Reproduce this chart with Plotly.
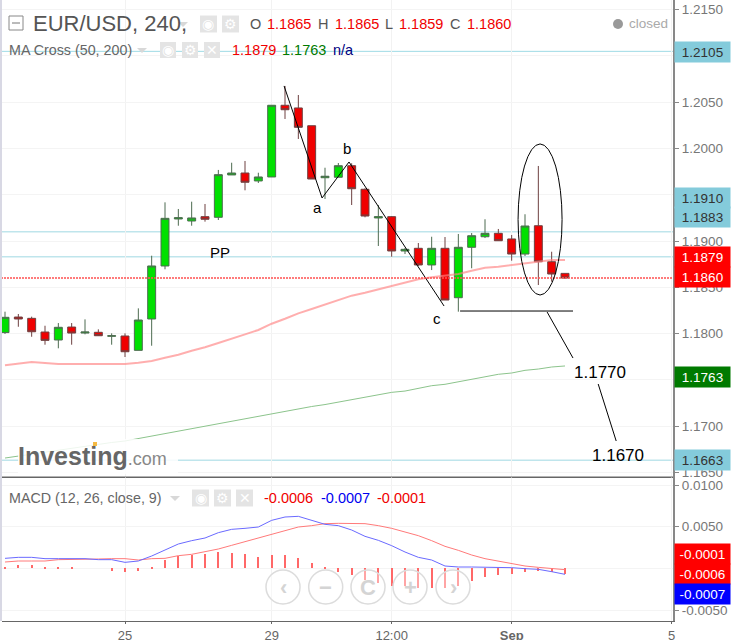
import plotly.graph_objects as go
from plotly.subplots import make_subplots

# candles, 4h bars
opens = [1.1801,1.18178,1.18164,1.18016,1.1793,1.1807,1.18005,1.18013,1.1797,1.17973,1.17818,1.18157,1.1873,1.19238,1.19216,1.19263,1.19256,1.19714,1.19735,1.19649,1.19692,1.20467,1.20438,1.20246,1.19684,1.19689,1.19814,1.19559,1.19249,1.19263,1.18892,1.18921,1.18741,1.18921,1.18387,1.18932,1.19046,1.19083,1.19022,1.18859,1.19165,1.18776,1.1865]
highs = [1.18236,1.18211,1.18182,1.18084,1.18113,1.18113,1.18153,1.18045,1.18002,1.18002,1.18272,1.18841,1.19418,1.19346,1.19425,1.194,1.19768,1.19846,1.19865,1.19738,1.20467,1.20676,1.20578,1.20246,1.19792,1.19843,1.1984,1.1957,1.19389,1.1927,1.18925,1.18978,1.19046,1.19043,1.19076,1.19086,1.19235,1.1913,1.19065,1.19289,1.19811,1.18884,1.1865]
lows = [1.17995,1.18073,1.17965,1.17879,1.1784,1.17879,1.17991,1.17973,1.17879,1.17746,1.17818,1.17868,1.18694,1.19165,1.19165,1.19209,1.19227,1.19714,1.19548,1.19627,1.19692,1.20319,1.20103,1.1967,1.19454,1.19689,1.19389,1.19256,1.18946,1.1883,1.18859,1.1873,1.18686,1.18362,1.18236,1.18705,1.19032,1.19,1.18787,1.18838,1.18524,1.1856,1.1859]
closes = [1.18175,1.18157,1.18019,1.17926,1.18067,1.18005,1.18016,1.17976,1.17976,1.17803,1.18146,1.1873,1.19245,1.19252,1.19249,1.19235,1.19717,1.19735,1.19635,1.19692,1.20467,1.20419,1.20229,1.1967,1.197,1.19814,1.19565,1.1927,1.19263,1.18892,1.1891,1.18741,1.18921,1.18362,1.18932,1.19057,1.19083,1.19003,1.18859,1.19162,1.18776,1.18643,1.186]

ma50 = [1.17656,1.17674,1.17692,1.17681,1.1767,1.1767,1.1767,1.1767,1.1767,1.1767,1.17684,1.17703,1.17738,1.17771,1.17814,1.17851,1.17897,1.17948,1.17991,1.18038,1.18106,1.1816,1.18218,1.18265,1.18311,1.18362,1.18409,1.18441,1.18478,1.18517,1.18554,1.18586,1.18608,1.18625,1.18643,1.18679,1.18711,1.18722,1.18741,1.18765,1.18784,1.18795,1.18795]
ma200 = [1.16654,1.16676,1.16697,1.16719,1.16735,1.16757,1.16778,1.168,1.16822,1.16838,1.16865,1.16892,1.16919,1.16946,1.16973,1.17,1.17027,1.17049,1.17076,1.17103,1.1713,1.17157,1.17184,1.17211,1.17232,1.1726,1.17286,1.17314,1.17338,1.17364,1.17378,1.17408,1.17436,1.17451,1.17479,1.17508,1.17537,1.17559,1.17573,1.17602,1.17616,1.17638,1.17649]

macd_blue = [.0012,.00132,.00132,.00116,.00116,.00116,.00116,.00104,.00104,.00072,.00088,.00148,.00224,.00292,.00332,.00364,.00428,.00468,.0048,.00496,.00576,.00616,.00624,.00576,.00528,.00512,.0046,.00384,.00336,.00272,.00196,.00132,.001,.00028,.00016,.00016,.00016,.00012,.00008,-.00004,-.00012,-.0004,-.00072]
macd_red = [.00076,.00088,.00088,.00088,.00104,.00104,.00112,.00112,.00116,.00116,.001,.00116,.0012,.00152,.00168,.00196,.00232,.00276,.0032,.00364,.00408,.00448,.00496,.00512,.00536,.0054,.0054,.00536,.00512,.0048,.00436,.00392,.00332,.00264,.00216,.0016,.00116,.00084,.00056,.00028,.00012,-.00004,-.00016]
macd_hist = [.0002,.0004,.0004,.0002,.0002,.00008,0,0,-.00028,-.0004,-.00028,.0002,.00096,.00144,.0016,.00172,.00192,.00188,.00172,.0014,.0016,.0016,.00124,.00068,.00008,-.0004,-.00084,-.00136,-.00176,-.00216,-.00216,-.00236,-.00236,-.00236,-.00216,-.00156,-.00108,-.0008,-.00064,-.0004,-.00032,-.00044,-.00068]

bars = list(range(len(opens)))

# hand drawn lines on the chart (bar index, price)
zig_x = [20.93,23.78,25.8,32.93]
zig_y = [1.20676,1.19465,1.19854,1.18297]
floor_x = [34.13,42.6]
floor_y = [1.18243,1.18243]
drop1_x = [40.66,42.6]
drop1_y = [1.18232,1.17735]
drop2_x = [44.49,45.84]
drop2_y = [1.17454,1.16838]

levels = [1.2105,1.1910,1.1883,1.1663]
last_price = 1.1860

price_ticks = [1.2150,1.2100,1.2050,1.2000,1.1950,1.1900,1.1850,1.1800,1.1750,1.1700,1.1650]
# 1.2100, 1.1950 and 1.1750 sit fully behind the price tags
price_labels = ['1.2150','','1.2050','1.2000','','1.1900','1.1850','1.1800','','1.1700','1.1650']
macd_ticks = [0.01,0.005,0,-0.005]
macd_labels = ['0.0100','0.0050','','-0.0050']
time_ticks = [9,20,29,38,50]
time_labels = ['25','29','12:00','<b>Sep</b>','5']

W, H = 733, 640
L, R, B = 2, 60, 19
PW, PH = W-L-R, H-B

def xp(px):
    return (px-L)/PW
def yp(py):
    return 1-py/PH

fig = make_subplots(rows=2, cols=1, shared_xaxes=True, vertical_spacing=0, row_heights=[477/621,144/621])

fig.add_trace(go.Candlestick(x=bars, open=opens, high=highs, low=lows, close=closes,
    increasing=dict(fillcolor='#00e000', line=dict(color='#4d6b50', width=1)),
    decreasing=dict(fillcolor='#f00000', line=dict(color='#6e4040', width=1))), row=1, col=1)
fig.add_trace(go.Scatter(x=bars, y=ma50, mode='lines', line=dict(color='rgba(255,130,130,0.65)', width=2)), row=1, col=1)
fig.add_trace(go.Scatter(x=bars, y=ma200, mode='lines', line=dict(color='#8cc48c', width=1)), row=1, col=1)
for xs, ys in [(zig_x,zig_y),(floor_x,floor_y),(drop1_x,drop1_y),(drop2_x,drop2_y)]:
    fig.add_trace(go.Scatter(x=xs, y=ys, mode='lines', line=dict(color='black', width=1)), row=1, col=1)

fig.add_trace(go.Bar(x=bars, y=macd_hist, width=0.1, marker=dict(color='#ff6868', line=dict(width=0))), row=2, col=1)
fig.add_trace(go.Scatter(x=bars, y=macd_red, mode='lines', line=dict(color='#ff7a7a', width=1)), row=2, col=1)
fig.add_trace(go.Scatter(x=bars, y=macd_blue, mode='lines', line=dict(color='#6a6aff', width=1)), row=2, col=1)

# level lines
for lv in levels:
    c = '#9fdbe6' if lv == 1.2105 else '#bfe5ec'
    w = 1 if lv == 1.2105 else 1.5
    fig.add_shape(type='line', xref='x', yref='y', x0=-0.3, x1=50.2, y0=lv, y1=lv, line=dict(color=c, width=w), layer='below')
fig.add_shape(type='line', xref='x', yref='y', x0=-0.3, x1=50.2, y0=last_price, y1=last_price, line=dict(color='#ff5050', width=1.5, dash='2px,1px'))
# circled spike
fig.add_shape(type='circle', xref='x', yref='y', x0=38.48, x1=41.78, y0=1.18416, y1=1.20049, line=dict(color='black', width=1))

def txt(px, py, text, size, color, anchor='left', family='Liberation Sans'):
    fig.add_annotation(xref='paper', yref='paper', x=xp(px), y=yp(py), text=text, showarrow=False,
        xanchor=anchor, yanchor='middle', font=dict(size=size, color=color, family=family), borderpad=0)

def tag(py, text, bg, fg='white'):
    fig.add_annotation(xref='paper', yref='paper', x=xp(674), y=yp(py), text=text, showarrow=False,
        xanchor='left', yanchor='middle', width=55, height=20, bgcolor=bg, borderpad=0, align='center', valign='middle',
        font=dict(size=13.5, color=fg, family='Liberation Sans'))

def box(x0, y0, x1, y1, **kw):
    fig.add_shape(type='rect', xref='paper', yref='paper', x0=xp(x0), x1=xp(x1), y0=yp(y0), y1=yp(y1), **kw)

def caret(px, py):
    fig.add_shape(type='path', xref='paper', yref='paper',
        path=f'M {xp(px)} {yp(py-2)} L {xp(px+10)} {yp(py-2)} L {xp(px+5)} {yp(py+3)} Z',
        fillcolor='#d8d8d8', line=dict(width=0))

def icons(px_list, py, size):
    glyphs = ['◉','⚙','✕']
    for i, px in enumerate(px_list):
        box(px, py-size/2, px+size, py+size/2, fillcolor='#e4e4e4', line=dict(width=0))
        txt(px+size/2, py, glyphs[i], 14, 'white', 'center', 'DejaVu Sans')

# header
box(9, 16, 23, 30, line=dict(color='#888', width=1))
fig.add_shape(type='line', xref='paper', yref='paper', x0=xp(12), x1=xp(20), y0=yp(23), y1=yp(23), line=dict(color='#777', width=1))
txt(32, 24, 'EUR/USD, 240,', 22, '#555')
caret(178, 24)
icons([200,222], 24, 17)
for px, label, val in [(249,'O','1.1865'),(317,'H','1.1865'),(384,'L','1.1859'),(449,'C','1.1860')]:
    txt(px, 24, label, 14.5, '#555')
    txt(px+17 if label != 'L' else px+14, 24, val, 14.5, '#f00000')
fig.add_shape(type='circle', xref='paper', yref='paper', x0=xp(613), x1=xp(623), y0=yp(29), y1=yp(19), fillcolor='#999', line=dict(width=0))
txt(628, 24, 'closed', 13.5, '#aaa')

txt(8, 50, 'MA Cross (50, 200)', 14.3, '#666')
caret(137, 50)
icons([160,182,204], 50, 16)
txt(231, 50, '1.1879', 14.5, '#f00000')
txt(281, 50, '1.1763', 14.5, '#007a00')
txt(332, 50, 'n/a', 14.5, '#000080')

# drawn labels
txt(317, 208, 'a', 15, 'black', 'center')
txt(347, 149, 'b', 15, 'black', 'center')
txt(437, 318, 'c', 15, 'black', 'center')
txt(220, 252, 'PP', 15, 'black', 'center')
txt(600, 372, '1.1770', 17, 'black', 'center')
txt(618, 455, '1.1670', 17, 'black', 'center')

# logo
box(18, 439, 178, 474, fillcolor='rgba(255,255,255,0.85)', line=dict(width=0))
txt(17, 456, '<b>Investing</b><span style="font-size:18px;color:#888">.com</span>', 25, '#666')
box(93, 442, 97, 446, fillcolor='#f5b942', line=dict(width=0))

# price tags
tag(51.5, '1.2105', '#84cbdb', '#333')
tag(197.5, '1.1910', '#84cbdb', '#333')
tag(217, '1.1883', '#84cbdb', '#333')
tag(257, '1.1879', '#ff0000')
tag(277, '1.1860', '#ff0000')
tag(377, '1.1763', '#007a00')
tag(460, '1.1663', '#84cbdb', '#333')
tag(554, '-0.0001', '#ff0000')
tag(574, '-0.0006', '#ff0000')
tag(594, '-0.0007', '#0000ff')

# macd header
txt(8, 498, 'MACD (12, 26, close, 9)', 14.3, '#666')
caret(170, 498)
icons([192,214,236], 498, 17)
txt(263, 498, '-0.0006', 14.5, '#f00000')
txt(320, 498, '-0.0007', 14.5, '#0000f0')
txt(376, 498, '-0.0001', 14.5, '#f00000')

# nav buttons
for cx, g in [(283,'‹'),(325.7,'−'),(368,'C'),(410,'+'),(453,'›')]:
    fig.add_shape(type='circle', xref='paper', yref='paper', x0=xp(cx-17), x1=xp(cx+17), y0=yp(604), y1=yp(570),
        fillcolor='rgba(255,255,255,0.4)', line=dict(color='#dcdcdc', width=1.5))
    txt(cx, 587, f'<b>{g}</b>', 22, '#d4d4d4', 'center')

fig.update_layout(width=W, height=H, margin=dict(l=L, r=R, t=0, b=B, autoexpand=False), showlegend=False,
    paper_bgcolor='white', plot_bgcolor='white', bargap=0, boxgap=0.15,
    font=dict(family='Liberation Sans', size=13, color='#777'),
    xaxis=dict(rangeslider=dict(visible=False)))
fig.update_xaxes(range=[-0.225,50.1], tickvals=time_ticks, ticktext=time_labels, showgrid=True, gridcolor='#f2f2f2',
    zeroline=False, showline=True, linecolor='#666', linewidth=1, ticks='outside', ticklen=2, tickcolor='#666',
    tickfont=dict(size=13, color='#666'), rangeslider_visible=False)
fig.update_yaxes(side='right', showgrid=True, gridcolor='#f4f4f4', zeroline=False, showline=True, linecolor='#888', linewidth=2,
    ticks='outside', ticklen=4, tickcolor='#888', tickfont=dict(size=13.5, color='#777'))
fig.update_yaxes(range=[1.16449,1.21605], tickvals=price_ticks, ticktext=price_labels, row=1, col=1)
fig.update_yaxes(range=[-0.00632,0.01096], tickvals=macd_ticks, ticktext=macd_labels, row=2, col=1)

fig.add_shape(type='line', xref='paper', yref='paper', x0=0, x1=1, y0=yp(477), y1=yp(477), line=dict(color='#666', width=1))
fig.add_shape(type='line', xref='paper', yref='paper', x0=xp(1), x1=xp(1), y0=0, y1=1, line=dict(color='#d8d8e4', width=2))

fig.write_html("out.html", post_script="document.body.style.margin='0';", config=dict(displayModeBar=False))
